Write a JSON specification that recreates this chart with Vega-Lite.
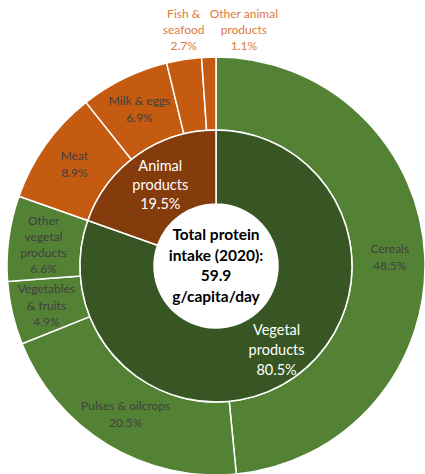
{
  "$schema": "https://vega.github.io/schema/vega-lite/v6.json",
  "width": 425,
  "height": 474,
  "autosize": {"type": "none"},
  "padding": 0,
  "background": "white",
  "config": {"view": {"stroke": null}},
  "datasets": {
    "outer": [
      {"category": "Cereals", "value": 48.5, "order": 1, "label": "Cereals\n48.5%"},
      {"category": "Pulses & oilcrops", "value": 20.5, "order": 2, "label": "Pulses & oilcrops\n20.5%"},
      {"category": "Vegetables & fruits", "value": 4.9, "order": 3, "label": "Vegetables\n& fruits\n4.9%"},
      {"category": "Other vegetal products", "value": 6.6, "order": 4, "label": "Other\nvegetal\nproducts\n6.6%"},
      {"category": "Meat", "value": 8.9, "order": 5, "label": "Meat\n8.9%"},
      {"category": "Milk & eggs", "value": 6.9, "order": 6, "label": "Milk & eggs\n6.9%"},
      {"category": "Fish & seafood", "value": 2.7, "order": 7, "label": "Fish &\nseafood\n2.7%"},
      {"category": "Other animal products", "value": 1.1, "order": 8, "label": "Other animal\nproducts\n1.1%"}
    ],
    "inner": [
      {"category": "Vegetal products", "value": 80.5, "order": 1, "label": "Vegetal\nproducts\n80.5%"},
      {"category": "Animal products", "value": 19.6, "order": 2, "label": "Animal\nproducts\n19.5%"}
    ],
    "center": [
      {"label": "Total protein\nintake (2020):\n59.9\ng/capita/day"}
    ]
  },
  "layer": [
    {
      "data": {"name": "outer"},
      "mark": {"type": "arc", "innerRadius": 136, "outerRadius": 209, "stroke": "white", "strokeWidth": 1.5, "xOffset": 3.5, "yOffset": 29},
      "encoding": {
        "theta": {"field": "value", "type": "quantitative", "stack": true},
        "order": {"field": "order", "type": "quantitative"},
        "color": {
          "field": "category", "type": "nominal", "legend": null,
          "scale": {
            "domain": ["Cereals", "Pulses & oilcrops", "Vegetables & fruits", "Other vegetal products", "Meat", "Milk & eggs", "Fish & seafood", "Other animal products", "Vegetal products", "Animal products"],
            "range": ["#548235", "#548235", "#548235", "#548235", "#C55A11", "#C55A11", "#C55A11", "#C55A11", "#375623", "#843C0C"]
          }
        }
      }
    },
    {
      "data": {"name": "inner"},
      "mark": {"type": "arc", "innerRadius": 62, "outerRadius": 136, "stroke": "white", "strokeWidth": 1.5, "xOffset": 3.5, "yOffset": 29},
      "encoding": {
        "theta": {"field": "value", "type": "quantitative", "stack": true},
        "order": {"field": "order", "type": "quantitative"},
        "color": {"field": "category", "type": "nominal", "legend": null}
      }
    },
    {
      "data": {"name": "outer"},
      "mark": {"type": "text", "radius": 174, "font": "Lato", "fontSize": 12, "lineHeight": 17, "lineBreak": "\n", "color": "#404040", "align": "center", "baseline": "middle", "dy": -8.5, "xOffset": 3.5, "yOffset": 29},
      "encoding": {
        "theta": {"field": "value", "type": "quantitative", "stack": true},
        "order": {"field": "order", "type": "quantitative"},
        "text": {"condition": {"test": "datum.order == 1 || datum.order == 2 || datum.order == 5 || datum.order == 6", "field": "label"}, "value": ""}
      }
    },
    {
      "data": {"name": "outer"},
      "mark": {"type": "text", "radius": 174, "font": "Lato", "fontSize": 12, "lineHeight": 16.5, "lineBreak": "\n", "color": "#404040", "align": "center", "baseline": "middle", "dy": -16, "xOffset": 3.5, "yOffset": 29},
      "encoding": {
        "theta": {"field": "value", "type": "quantitative", "stack": true},
        "order": {"field": "order", "type": "quantitative"},
        "text": {"condition": {"test": "datum.order == 3", "field": "label"}, "value": ""}
      }
    },
    {
      "data": {"name": "outer"},
      "mark": {"type": "text", "radius": 174, "font": "Lato", "fontSize": 12, "lineHeight": 16, "lineBreak": "\n", "color": "#404040", "align": "center", "baseline": "middle", "dy": -22, "xOffset": 3.5, "yOffset": 29},
      "encoding": {
        "theta": {"field": "value", "type": "quantitative", "stack": true},
        "order": {"field": "order", "type": "quantitative"},
        "text": {"condition": {"test": "datum.order == 4", "field": "label"}, "value": ""}
      }
    },
    {
      "data": {"name": "outer"},
      "mark": {"type": "text", "radius": 237, "font": "Lato", "fontSize": 12, "lineHeight": 16, "lineBreak": "\n", "color": "#DD7A3E", "align": "center", "baseline": "middle", "dx": 4, "dy": -18, "xOffset": 3.5, "yOffset": 29},
      "encoding": {
        "theta": {"field": "value", "type": "quantitative", "stack": true},
        "order": {"field": "order", "type": "quantitative"},
        "text": {"condition": {"test": "datum.order == 7", "field": "label"}, "value": ""}
      }
    },
    {
      "data": {"name": "outer"},
      "mark": {"type": "text", "radius": 237, "font": "Lato", "fontSize": 12, "lineHeight": 16, "lineBreak": "\n", "color": "#DD7A3E", "align": "center", "baseline": "middle", "dx": 36, "dy": -15, "xOffset": 3.5, "yOffset": 29},
      "encoding": {
        "theta": {"field": "value", "type": "quantitative", "stack": true},
        "order": {"field": "order", "type": "quantitative"},
        "text": {"condition": {"test": "datum.order == 8", "field": "label"}, "value": ""}
      }
    },
    {
      "data": {"name": "inner"},
      "mark": {"type": "text", "radius": 105, "font": "Lato", "fontSize": 14.5, "lineHeight": 20, "lineBreak": "\n", "color": "white", "align": "center", "baseline": "middle", "dy": -21, "xOffset": 3.5, "yOffset": 29},
      "encoding": {
        "theta": {"field": "value", "type": "quantitative", "stack": true},
        "order": {"field": "order", "type": "quantitative"},
        "text": {"condition": {"test": "datum.order == 1", "field": "label"}, "value": ""}
      }
    },
    {
      "data": {"name": "inner"},
      "mark": {"type": "text", "radius": 100, "font": "Lato", "fontSize": 14.5, "lineHeight": 19, "lineBreak": "\n", "color": "white", "align": "center", "baseline": "middle", "dx": 2, "dy": -17, "xOffset": 3.5, "yOffset": 29},
      "encoding": {
        "theta": {"field": "value", "type": "quantitative", "stack": true},
        "order": {"field": "order", "type": "quantitative"},
        "text": {"condition": {"test": "datum.order == 2", "field": "label"}, "value": ""}
      }
    },
    {
      "data": {"name": "center"},
      "mark": {"type": "text", "font": "Lato", "fontSize": 15.5, "fontWeight": "bold", "lineHeight": 20.5, "lineBreak": "\n", "color": "black", "align": "center", "baseline": "middle", "dy": -31, "xOffset": 3.5, "yOffset": 29},
      "encoding": {
        "text": {"field": "label"}
      }
    }
  ]
}
